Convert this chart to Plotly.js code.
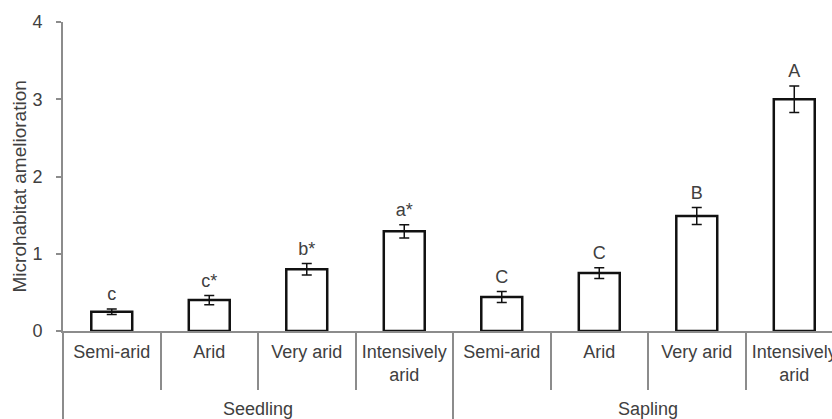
<!DOCTYPE html>
<html>
<head>
<meta charset="utf-8">
<script src="https://cdn.plot.ly/plotly-3.0.1.min.js"></script>
<style>
  html, body { margin: 0; padding: 0; background: #fff; }
  #chart { width: 832px; height: 419px; }
</style>
</head>
<body>
<div id="chart"></div>
<script>
// Data
const stages = ["Seedling", "Seedling", "Seedling", "Seedling", "Sapling", "Sapling", "Sapling", "Sapling"];
const aridity = ["Semi-arid", "Arid", "Very arid", "Intensively<br>arid", "Semi-arid", "Arid", "Very arid", "Intensively<br>arid"];
const amelioration = [0.25, 0.40, 0.80, 1.29, 0.44, 0.75, 1.49, 3.00];
const stdErr = [0.035, 0.06, 0.075, 0.085, 0.07, 0.07, 0.11, 0.17];
const letters = ["c", "c*", "b*", "a*", "C", "C", "B", "A"];
const yTicks = [0, 1, 2, 3, 4];

const FONT = "Liberation Sans, Arial, sans-serif";
const TXT = "#404040";
const AX = "#8c8c8c";

// Display labels: a tall invisible spacer around the "Arid" labels deepens the first label row,
// which pushes the second (Seedling / Sapling) row and the group dividers further down.
const spacer = "<span style='font-size:34px'>\u00A0</span>";
const childLabels = aridity.map(a => (a === "Arid" ? spacer + a + spacer : a));

const x = [stages, childLabels];
const labelY = amelioration.map((v, i) => v + stdErr[i]);

const traces = [
  {
    type: "bar",
    x: x,
    y: amelioration,
    width: 0.42,
    marker: { color: "#ffffff", line: { color: "#111111", width: 2.5 } },
    error_y: { type: "data", array: stdErr, visible: true, color: "#111111", thickness: 1.5, width: 5 },
    hoverinfo: "none"
  },
  {
    type: "scatter",
    mode: "markers+text",
    x: x,
    y: labelY,
    text: letters,
    textposition: "top center",
    marker: { size: 5, color: "rgba(0,0,0,0)" },
    textfont: { family: FONT, size: 18, color: TXT },
    hoverinfo: "none"
  }
];

const layout = {
  width: 832,
  height: 419,
  margin: { l: 63, r: 0, t: 22, b: 88, pad: 0 },
  paper_bgcolor: "#ffffff",
  plot_bgcolor: "#ffffff",
  showlegend: false,
  font: { family: FONT, size: 18, color: TXT },
  xaxis: {
    type: "multicategory",
    range: [-0.5, 7.387],
    showline: true,
    linecolor: AX,
    linewidth: 2,
    ticks: "outside",
    ticklen: 57,
    tickwidth: 2,
    tickcolor: AX,
    ticklabelstandoff: 3,
    showdividers: true,
    dividercolor: AX,
    dividerwidth: 2,
    showgrid: false,
    zeroline: false,
    tickfont: { family: FONT, size: 18, color: TXT }
  },
  yaxis: {
    range: [0, 4],
    tickvals: yTicks,
    showline: true,
    linecolor: AX,
    linewidth: 2,
    ticks: "outside",
    ticklen: 5,
    tickwidth: 2,
    tickcolor: AX,
    showgrid: false,
    zeroline: false,
    ticklabelstandoff: 10,
    tickfont: { family: FONT, size: 18, color: TXT }
  },
  annotations: [
    {
      text: "Microhabitat amelioration",
      xref: "paper", yref: "paper",
      x: 0, y: 0.5,
      xanchor: "center", yanchor: "middle",
      xshift: -44, yshift: -10,
      textangle: -90,
      showarrow: false,
      font: { family: FONT, size: 19, color: TXT }
    }
  ]
};

Plotly.newPlot("chart", traces, layout, { displayModeBar: false, staticPlot: true });
</script>
</body>
</html>
